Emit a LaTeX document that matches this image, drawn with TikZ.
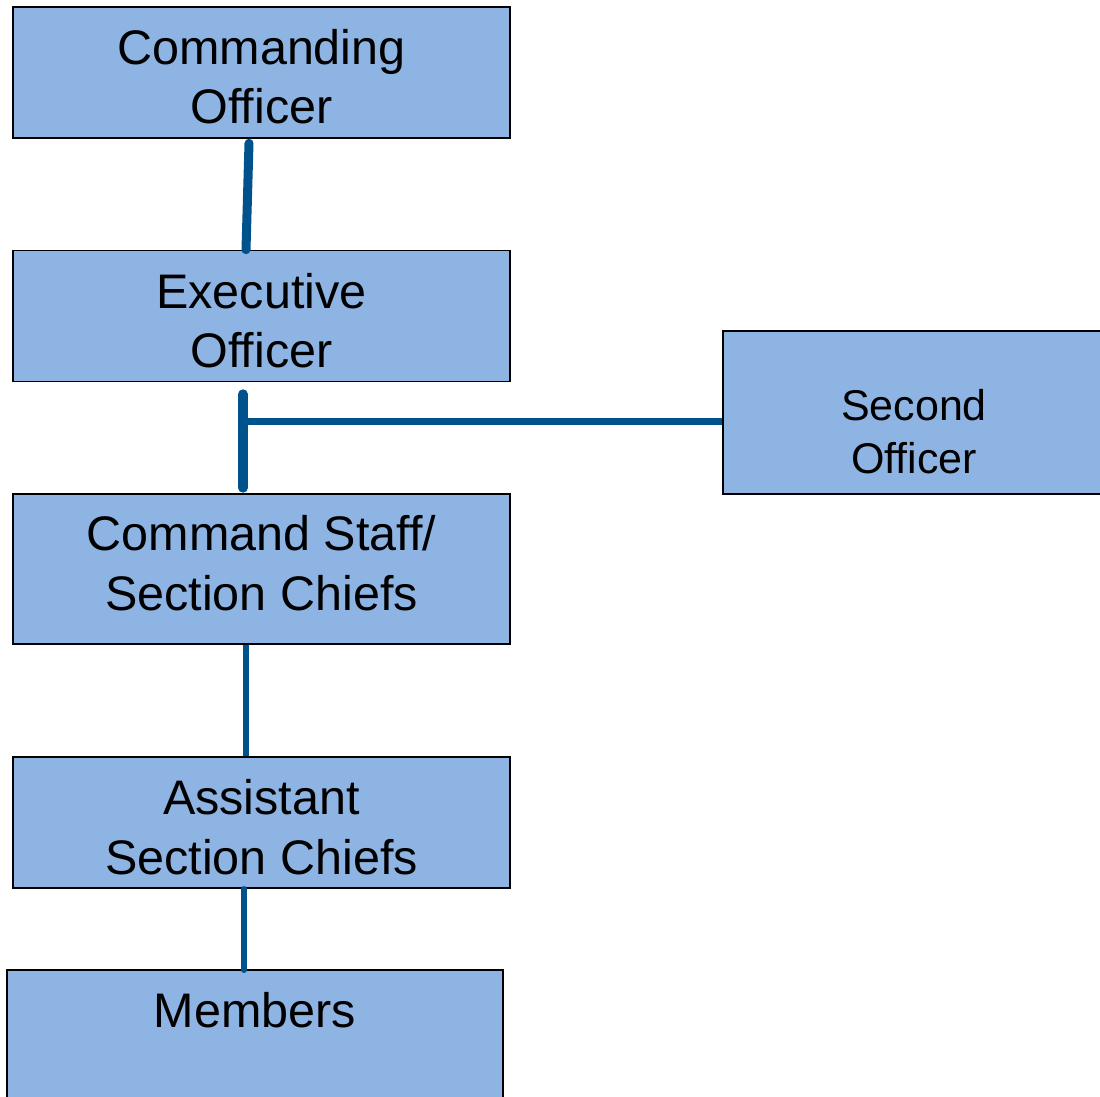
\documentclass[tikz,border=0pt]{standalone}
\usepackage{fontspec}
\setmainfont{Liberation Sans}
\definecolor{boxfill}{RGB}{142,180,227}
\definecolor{linkblue}{RGB}{0,82,140}
\begin{document}
\begin{tikzpicture}[x=1pt,y=-1pt,
  orgbox/.style={draw=black, line width=1.6pt, fill=boxfill, rectangle, inner sep=0pt},
  txt/.style={anchor=base, inner sep=0pt, font=\fontsize{48.5}{58}\selectfont},
  stxt/.style={anchor=base, inner sep=0pt, font=\fontsize{43}{52}\selectfont},
  conn/.style={draw=linkblue, line cap=round}]
\useasboundingbox (0,0) rectangle (1100,1097);
% boxes
\node[orgbox, minimum width=497pt, minimum height=131pt] (co) at (261.5,72.5) {};
\node[orgbox, minimum width=497pt, minimum height=131pt] (eo) at (261.5,316) {};
\node[orgbox, minimum width=497pt, minimum height=150pt] (cs) at (261.5,569) {};
\node[orgbox, minimum width=497pt, minimum height=131pt] (asc) at (261.5,822.5) {};
\node[orgbox, minimum width=496pt, minimum height=150pt] (mem) at (255,1045) {};
\node[orgbox, minimum width=400pt, minimum height=163pt] (so) at (923,412.5) {};
% texts
\node[txt] (co1) at (261.5,65) {Commanding};
\node[txt] (co2) at (261.5,124) {Officer};
\node[txt] (eo1) at (261.5,308) {Executive};
\node[txt] (eo2) at (261.5,367) {Officer};
\node[txt] (cs1) at (261.5,550) {Command Staff/};
\node[txt] (cs2) at (261.5,610) {Section Chiefs};
\node[txt] (as1) at (261.5,814) {Assistant};
\node[txt] (as2) at (261.5,874) {Section Chiefs};
\node[txt] (me1) at (255,1027) {Members};
\node[stxt] (so1) at (914,420) {Second};
\node[stxt] (so2) at (914,473) {Officer};
% connectors
\coordinate (j) at (243,421);
\draw[conn, line width=9pt] ([xshift=-12.5pt,yshift=-4.5pt]co.south) -- ([xshift=-15.5pt,yshift=0pt]eo.north);
\draw[conn, line width=10pt] ([xshift=-18.5pt,yshift=-12pt]eo.south) -- ([xshift=-18.5pt,yshift=5.5pt]cs.north);
\draw[draw=linkblue, line width=7pt] ([xshift=4pt]j) -- (so.west |- j);
\draw[draw=linkblue, line width=5.5pt] ([xshift=-15.5pt]cs.south) -- ([xshift=-15.5pt]asc.north);
\draw[conn, line width=5.5pt] ([xshift=-17.5pt,yshift=0pt]asc.south) -- ([xshift=-11pt,yshift=-1pt]mem.north);
\end{tikzpicture}
\end{document}
